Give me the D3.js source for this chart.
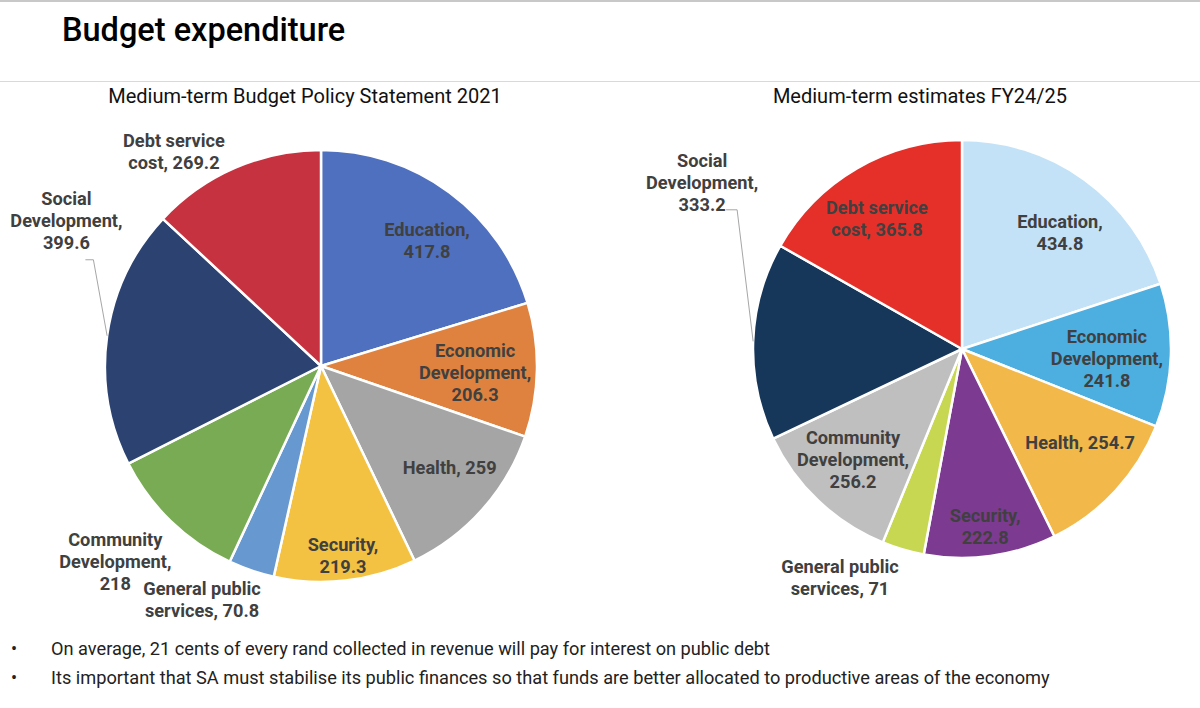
<!DOCTYPE html>
<html><head><meta charset="utf-8">
<script src="https://cdn.jsdelivr.net/npm/d3@7"></script>
<style>body{margin:0;background:#fff;overflow:hidden}text{font-family:Roboto,"Noto Sans",sans-serif}</style>
</head><body><svg id="c" width="1200" height="708"></svg>
<script>
// ---------- data ----------
const pageTitle = "Budget expenditure";
const chartTitles = ["Medium-term Budget Policy Statement 2021", "Medium-term estimates FY24/25"];
const categories = ["Education", "Economic Development", "Health", "Security",
  "General public services", "Community Development", "Social Development", "Debt service cost"];
const values2021 = [417.8, 206.3, 259, 219.3, 70.8, 218, 399.6, 269.2];
const valuesFY25 = [434.8, 241.8, 254.7, 222.8, 71, 256.2, 333.2, 365.8];
// label line breaks ({v} = value)
const labelWrap2021 = [["Education,", "{v}"], ["Economic", "Development,", "{v}"], ["Health, {v}"], ["Security,", "{v}"],
  ["General public", "services, {v}"], ["Community", "Development,", "{v}"], ["Social", "Development,", "{v}"], ["Debt service", "cost, {v}"]];
const labelWrapFY25 = [["Education,", "{v}"], ["Economic", "Development,", "{v}"], ["Health, {v}"], ["Security,", "{v}"],
  ["General public", "services, {v}"], ["Community", "Development,", "{v}"], ["Social", "Development,", "{v}"], ["Debt service", "cost, {v}"]];
const colors2021 = ["#4f70be", "#e0823f", "#a5a5a5", "#f4c242", "#6898d0", "#79ab54", "#2c4372", "#c6323f"];
const colorsFY25 = ["#c3e2f7", "#4daee0", "#f2b84a", "#7d3a91", "#c8d752", "#bfbfbf", "#17375a", "#e5302a"];
const bullets = [
  "On average, 21 cents of every rand collected in revenue will pay for interest on public debt",
  "Its important that SA must stabilise its public finances so that funds are better allocated to productive areas of the economy"
];

// ---------- layout (not data) ----------
const charts = [
  { values: values2021, wrap: labelWrap2021, colors: colors2021, title: chartTitles[0],
    cx: 321, cy: 366, r: 216, titleX: 305,
    // [radius factor, angle deg] for each label centre
    labelPos: [[0.759, 40.3], [0.714, 92.6], [0.759, 128.3], [0.885, 173.4], [1.215, 206.95], [1.315, 226.4], [1.357, 299.7], [1.202, 325.5]],
    leader: { index: 6, start: [19, 39], elbow: [27, 39] } },
  { values: valuesFY25, wrap: labelWrapFY25, colors: colorsFY25, title: chartTitles[1],
    cx: 962, cy: 349, r: 209, titleX: 920,
    labelPos: [[0.728, 40.1], [0.695, 93.9], [0.722, 128.5], [0.859, 172.6], [1.239, 208.1], [0.744, 224.5], [1.476, 302.6], [0.745, 326.9]],
    leader: { index: 6, start: [24, 27], elbow: [35, 27] } }
];

const svg = d3.select("#c");
svg.append("rect").attr("x", 0).attr("y", 0).attr("width", 1200).attr("height", 2).attr("fill", "#c8c8c8");
svg.append("text").attr("x", 62).attr("y", 41).attr("font-size", 32.5).attr("font-weight", 500)
  .attr("fill", "#000").text(pageTitle);
svg.append("line").attr("x1", 0).attr("x2", 1200).attr("y1", 81.5).attr("y2", 81.5)
  .attr("stroke", "#d9d9d9").attr("stroke-width", 1);

const lh = 22;
charts.forEach(ch => {
  const g = svg.append("g").attr("transform", `translate(${ch.cx},${ch.cy})`);
  svg.append("text").attr("x", ch.titleX).attr("y", 103).attr("text-anchor", "middle")
    .attr("font-size", 20).attr("fill", "#111").text(ch.title);
  const pie = d3.pie().sort(null).value(d => d)(ch.values);
  const arc = d3.arc().innerRadius(0).outerRadius(ch.r);
  g.selectAll("path.s").data(pie).join("path").attr("class", "s")
    .attr("d", arc).attr("fill", (d, i) => ch.colors[i])
    .attr("stroke", "#fff").attr("stroke-width", 2.5).attr("stroke-linejoin", "round");

  const pos = ch.labelPos.map(([k, a]) => {
    const t = a * Math.PI / 180;
    return [Math.sin(t) * ch.r * k, -Math.cos(t) * ch.r * k];
  });

  // leader line
  const L = ch.leader;
  const d = pie[L.index];
  const mid = (d.startAngle + d.endAngle) / 2;
  const p = pos[L.index];
  const pts = [[p[0] + L.start[0], p[1] + L.start[1]], [p[0] + L.elbow[0], p[1] + L.elbow[1]],
    [Math.sin(mid) * ch.r, -Math.cos(mid) * ch.r]];
  g.append("path").attr("d", d3.line()(pts)).attr("fill", "none").attr("stroke", "#a6a6a6").attr("stroke-width", 1);

  pie.forEach((d, i) => {
    const lines = ch.wrap[i].map(s => s.replace("{v}", String(ch.values[i])));
    const t = g.append("text").attr("text-anchor", "middle").attr("font-size", 18.2)
      .attr("font-weight", 700).attr("fill", "#404040");
    lines.forEach((s, j) => {
      t.append("tspan").attr("x", pos[i][0])
        .attr("y", pos[i][1] + (j - (lines.length - 1) / 2) * lh)
        .attr("dy", "0.35em").text(s);
    });
  });
});

bullets.forEach((b, i) => {
  const y = 655 + i * 29;
  svg.append("text").attr("x", 11).attr("y", y).attr("font-size", 18).attr("fill", "#222").text("•");
  svg.append("text").attr("x", 51).attr("y", y).attr("font-size", 18.2).attr("fill", "#222").text(b);
});
</script></body></html>
